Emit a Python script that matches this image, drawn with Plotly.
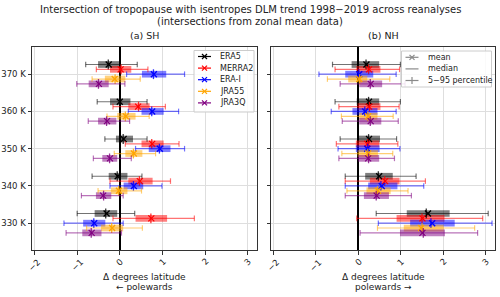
import plotly.graph_objects as go

levels = [330, 340, 350, 360, 370]
level_labels = ["330 K", "340 K", "350 K", "360 K", "370 K"]
datasets = ["ERA5", "MERRA2", "ERA-I", "JRA55", "JRA3Q"]
colors = ["#000000", "#ff0000", "#0000ff", "#ffa500", "#800080"]
offsets = [2.6, 1.3, 0.0, -1.3, -2.6]
x_ticks = [-2, -1, 0, 1, 2, 3]
x_tick_labels = ["−2", "−1", "0", "1", "2", "3"]
stat_names = ["mean", "median", "5−95 percentile"]

# ---- SH (values per level 330..370) ----
sh_mean = {
    "ERA5":   [-0.31, -0.05, 0.09, 0.00, -0.26],
    "MERRA2": [0.74, 0.47, 0.76, 0.43, 0.02],
    "ERA-I":  [-0.60, 0.33, 0.94, 0.76, 0.80],
    "JRA55":  [-0.18, -0.02, 0.33, 0.14, -0.12],
    "JRA3Q":  [-0.66, -0.39, -0.23, -0.30, -0.49],
}
sh_median = {
    "ERA5":   [-0.33, -0.06, 0.08, 0.01, -0.27],
    "MERRA2": [0.73, 0.46, 0.75, 0.44, 0.03],
    "ERA-I":  [-0.61, 0.32, 0.93, 0.75, 0.79],
    "JRA55":  [-0.19, -0.03, 0.32, 0.13, -0.11],
    "JRA3Q":  [-0.67, -0.38, -0.24, -0.31, -0.50],
}
sh_q25 = {
    "ERA5":   [-0.59, -0.26, -0.09, -0.23, -0.51],
    "MERRA2": [0.37, 0.20, 0.51, 0.20, -0.23],
    "ERA-I":  [-0.86, 0.09, 0.68, 0.51, 0.52],
    "JRA55":  [-0.44, -0.21, 0.13, -0.06, -0.35],
    "JRA3Q":  [-0.88, -0.56, -0.41, -0.51, -0.73],
}
sh_q75 = {
    "ERA5":   [-0.06, 0.18, 0.31, 0.25, 0.00],
    "MERRA2": [1.11, 0.77, 1.03, 0.70, 0.27],
    "ERA-I":  [-0.34, 0.55, 1.19, 1.03, 1.09],
    "JRA55":  [0.08, 0.18, 0.53, 0.37, 0.13],
    "JRA3Q":  [-0.43, -0.20, -0.06, -0.08, -0.26],
}
sh_p5 = {
    "ERA5":   [-1.00, -0.65, -0.35, -0.53, -0.80],
    "MERRA2": [-0.16, -0.23, 0.13, -0.16, -0.55],
    "ERA-I":  [-1.31, -0.23, 0.37, 0.20, 0.16],
    "JRA55":  [-0.78, -0.51, -0.13, -0.30, -0.65],
    "JRA3Q":  [-1.26, -0.90, -0.62, -0.74, -1.01],
}
sh_p95 = {
    "ERA5":   [0.35, 0.52, 0.64, 0.64, 0.41],
    "MERRA2": [1.75, 1.19, 1.39, 1.07, 0.66],
    "ERA-I":  [0.08, 0.99, 1.52, 1.38, 1.52],
    "JRA55":  [0.53, 0.51, 0.84, 0.69, 0.48],
    "JRA3Q":  [0.04, 0.08, 0.27, 0.23, 0.12],
}

# ---- NH ----
nh_mean = {
    "ERA5":   [1.64, 0.49, 0.25, 0.25, 0.19],
    "MERRA2": [1.51, 0.63, 0.21, 0.25, 0.25],
    "ERA-I":  [1.74, 0.55, 0.21, 0.16, 0.02],
    "JRA55":  [1.48, 0.46, 0.23, 0.23, 0.02],
    "JRA3Q":  [1.51, 0.43, 0.23, 0.29, 0.29],
}
nh_median = {
    "ERA5":   [1.60, 0.47, 0.24, 0.24, 0.18],
    "MERRA2": [1.50, 0.62, 0.22, 0.26, 0.24],
    "ERA-I":  [1.71, 0.53, 0.22, 0.15, 0.01],
    "JRA55":  [1.50, 0.45, 0.22, 0.22, 0.03],
    "JRA3Q":  [1.53, 0.42, 0.24, 0.28, 0.28],
}
nh_q25 = {
    "ERA5":   [1.14, 0.16, -0.02, -0.04, -0.16],
    "MERRA2": [0.90, 0.27, -0.06, -0.02, -0.05],
    "ERA-I":  [1.22, 0.23, -0.06, -0.14, -0.31],
    "JRA55":  [1.07, 0.19, -0.02, 0.02, -0.24],
    "JRA3Q":  [0.98, 0.13, -0.01, 0.02, 0.02],
}
nh_q75 = {
    "ERA5":   [2.15, 0.81, 0.51, 0.49, 0.49],
    "MERRA2": [2.03, 0.97, 0.49, 0.52, 0.52],
    "ERA-I":  [2.27, 0.92, 0.50, 0.45, 0.35],
    "JRA55":  [2.01, 0.76, 0.46, 0.45, 0.21],
    "JRA3Q":  [2.04, 0.72, 0.49, 0.54, 0.56],
}
nh_p5 = {
    "ERA5":   [0.42, -0.31, -0.43, -0.55, -0.61],
    "MERRA2": [-0.04, -0.31, -0.52, -0.46, -0.55],
    "ERA-I":  [0.47, -0.31, -0.48, -0.64, -0.93],
    "JRA55":  [0.45, -0.27, -0.39, -0.40, -0.73],
    "JRA3Q":  [0.04, -0.31, -0.46, -0.38, -0.43],
}
nh_p95 = {
    "ERA5":   [3.06, 1.36, 0.90, 0.99, 0.99],
    "MERRA2": [2.93, 1.58, 0.93, 0.96, 0.97],
    "ERA-I":  [3.15, 1.54, 0.98, 0.89, 0.89],
    "JRA55":  [2.74, 1.17, 0.81, 0.82, 0.74],
    "JRA3Q":  [2.81, 1.25, 0.85, 0.94, 1.10],
}

FONT = "DejaVu Sans"
W, H = 500, 297
TXT = "#222222"


def rgba(hexc, a):
    h = hexc.lstrip("#")
    r, g, b = int(h[0:2], 16), int(h[2:4], 16), int(h[4:6], 16)
    return f"rgba({r},{g},{b},{a})"


def px(x):
    return x / W


def py(y):
    return 1 - y / H


fig = go.Figure()

panels = [
    (sh_mean, sh_median, sh_q25, sh_q75, sh_p5, sh_p95, "x", "y"),
    (nh_mean, nh_median, nh_q25, nh_q75, nh_p5, nh_p95, "x2", "y2"),
]

for mean, med, q25, q75, p5, p95, xa, ya in panels:
    for name, col, off in zip(datasets, colors, offsets):
        ys = [lev + off for lev in levels]
        wx, wy = [], []
        for lo, hi, yy in zip(p5[name], p95[name], ys):
            wx += [lo, hi, None]
            wy += [yy, yy, None]
        fig.add_trace(go.Scatter(
            x=wx, y=wy, mode="lines+markers", xaxis=xa, yaxis=ya,
            line=dict(color=rgba(col, 0.55), width=1.2),
            marker=dict(symbol="line-ns", size=4,
                        line=dict(color=rgba(col, 0.55), width=1.2)),
            showlegend=False, hoverinfo="skip"))
        fig.add_trace(go.Bar(
            base=q25[name], x=[b - a for a, b in zip(q25[name], q75[name])],
            y=ys, orientation="h", width=1.8, xaxis=xa, yaxis=ya,
            marker=dict(color=rgba(col, 0.5), line=dict(width=0)),
            showlegend=False, hoverinfo="skip"))
        fig.add_trace(go.Scatter(
            x=med[name], y=ys, mode="markers", xaxis=xa, yaxis=ya,
            marker=dict(symbol="line-ns", size=7,
                        line=dict(color=rgba(col, 0.8), width=1.3)),
            showlegend=False, hoverinfo="skip"))
        fig.add_trace(go.Scatter(
            x=mean[name], y=ys, mode="markers", xaxis=xa, yaxis=ya,
            marker=dict(symbol="x-thin", size=6,
                        line=dict(color=col, width=1.3)),
            showlegend=False, hoverinfo="skip"))

# ---------- hand-built legends (compact, matplotlib-like) ----------
shapes = []
annotations = []


def legend_box(x0, y0, x1, y1):
    shapes.append(dict(type="rect", xref="paper", yref="paper",
                       x0=px(x0), x1=px(x1), y0=py(y1), y1=py(y0),
                       fillcolor="rgba(255,255,255,0.85)",
                       line=dict(color="#cccccc", width=1), layer="above"))


def legend_entry(xl, y, col, label, marker):
    shapes.append(dict(type="line", xref="paper", yref="paper",
                       x0=px(xl), x1=px(xl + 13), y0=py(y), y1=py(y),
                       line=dict(color=col, width=1.2), layer="above"))
    xc = xl + 6.5
    if marker == "x":
        for dy in (-2.5, 2.5):
            shapes.append(dict(type="line", xref="paper", yref="paper",
                               x0=px(xc - 2.5), x1=px(xc + 2.5),
                               y0=py(y - dy), y1=py(y + dy),
                               line=dict(color=col, width=1.2), layer="above"))
    elif marker == "|":
        shapes.append(dict(type="line", xref="paper", yref="paper",
                           x0=px(xc), x1=px(xc), y0=py(y - 3.5), y1=py(y + 3.5),
                           line=dict(color=col, width=1.2), layer="above"))
    annotations.append(dict(text=label, x=px(xl + 20), y=py(y), xref="paper",
                            yref="paper", showarrow=False, xanchor="left",
                            yanchor="middle", font=dict(family=FONT, size=8, color=TXT)))


legend_box(194, 50.5, 254, 112)
for i, (name, col) in enumerate(zip(datasets, colors)):
    legend_entry(198, 56.5 + 11.6 * i, col, name, "x")

gray = "#8a8a8a"
legend_box(401.5, 51, 491.5, 87)
for i, (name, mk) in enumerate(zip(stat_names, ["x", "", "|"])):
    legend_entry(405.5, 57.3 + 11.6 * i, gray, name, mk)

# ---------- titles ----------
annotations.append(dict(
    text="Intersection of tropopause with isentropes DLM trend 1998−2019 across reanalyses",
    x=0.5, y=py(10), xref="paper", yref="paper", showarrow=False,
    xanchor="center", yanchor="middle", font=dict(family=FONT, size=10, color=TXT)))
annotations.append(dict(
    text="(intersections from zonal mean data)",
    x=0.5, y=py(21.7), xref="paper", yref="paper", showarrow=False,
    xanchor="center", yanchor="middle", font=dict(family=FONT, size=10, color=TXT)))

panel_x = [(32, 257), (271, 495)]
panel_titles = ["(a) SH", "(b) NH"]
axis_line2 = ["← polewards", "polewards →"]
for (a, b), t, l2, xa in zip(panel_x, panel_titles, axis_line2, ["x", "x2"]):
    c = px((a + b) / 2)
    annotations.append(dict(text=t, x=c, y=py(35), xref="paper", yref="paper",
                            showarrow=False, xanchor="center", yanchor="middle",
                            font=dict(family=FONT, size=9.5, color=TXT)))
    annotations.append(dict(text="Δ degrees latitude", x=c, y=py(276.7),
                            xref="paper", yref="paper", showarrow=False,
                            xanchor="center", yanchor="middle",
                            font=dict(family=FONT, size=9, color=TXT)))
    annotations.append(dict(text=l2, x=c, y=py(287), xref="paper", yref="paper",
                            showarrow=False, xanchor="center", yanchor="middle",
                            font=dict(family=FONT, size=9, color=TXT)))
    for tv, tl in zip(x_ticks, x_tick_labels):
        annotations.append(dict(text=tl, x=tv, y=py(255.5), xref=xa, yref="paper",
                                showarrow=False, xanchor="center", yanchor="top",
                                textangle=-45, borderpad=0,
                                font=dict(family=FONT, size=8.5, color=TXT)))

ydom = [py(250), py(47)]
xrange_ = [-2.06, 3.22]
yrange_ = [322.8, 377.3]

axis_common = dict(
    showline=True, linecolor="#333333", linewidth=1, mirror=True,
    showgrid=True, gridcolor="#dedede", gridwidth=1,
    ticks="outside", ticklen=3.5, tickcolor="#333333",
    tickfont=dict(family=FONT, size=8.5, color=TXT),
)

fig.update_layout(
    width=W, height=H,
    margin=dict(l=0, r=0, t=0, b=0),
    paper_bgcolor="white", plot_bgcolor="white",
    barmode="overlay", showlegend=False,
    font=dict(family=FONT, size=9, color=TXT),
    xaxis=dict(domain=[px(32), px(257)], range=xrange_, tickvals=x_ticks,
               showticklabels=False, zeroline=True, zerolinecolor="black",
               zerolinewidth=1.5, anchor="y", **axis_common),
    yaxis=dict(domain=ydom, range=yrange_, tickvals=levels,
               ticktext=level_labels, zeroline=False, anchor="x",
               **axis_common),
    xaxis2=dict(domain=[px(271), px(495)], range=xrange_, tickvals=x_ticks,
                showticklabels=False, zeroline=True, zerolinecolor="black",
                zerolinewidth=1.5, anchor="y2", **axis_common),
    yaxis2=dict(domain=ydom, range=yrange_, tickvals=levels,
                showticklabels=False, zeroline=False, anchor="x2",
                **axis_common),
    shapes=shapes,
    annotations=annotations,
)

fig.write_html("out.html",
               config={"displayModeBar": False},
               post_script="document.body.style.margin='0';"
                           "document.body.style.overflow='hidden';")
